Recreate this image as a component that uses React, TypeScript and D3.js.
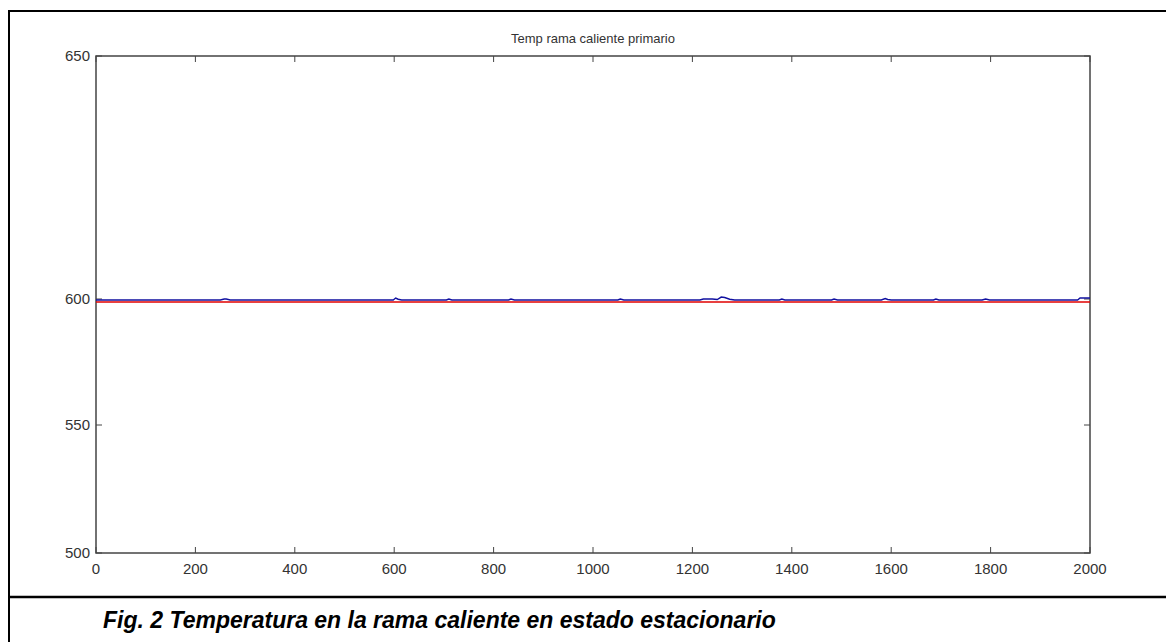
import React from 'react';
import * as d3 from 'd3';

// chart text
const chartTitle = 'Temp rama caliente primario';
const caption = 'Fig. 2 Temperatura en la rama caliente en estado estacionario';

// axis ticks
const xTicks = [0, 200, 400, 600, 800, 1000, 1200, 1400, 1600, 1800, 2000];
const yTicks = [500, 550, 600, 650];

// blue series (time, temperature)
const blueX = [0, 250, 258, 262, 270, 598, 603, 608, 615, 705, 710, 716, 830, 835, 842, 1050, 1055, 1062,
  1215, 1222, 1240, 1250, 1258, 1265, 1275, 1285, 1375, 1380, 1386, 1480, 1485, 1492, 1580, 1588, 1593, 1600,
  1685, 1690, 1696, 1783, 1790, 1798, 1975, 1980, 2000];
const blueY = [599.6, 599.6, 600.0, 600.0, 599.6, 599.6, 600.2, 599.9, 599.6, 599.6, 600.0, 599.6, 599.6, 600.0, 599.6,
  599.6, 600.0, 599.6, 599.6, 600.0, 600.0, 599.8, 600.4, 600.3, 599.9, 599.6, 599.6, 600.0, 599.6, 599.6, 600.0,
  599.6, 599.6, 600.1, 599.8, 599.6, 599.6, 600.0, 599.6, 599.6, 600.0, 599.6, 599.6, 600.2, 600.2];

// red series (reference value)
const redX = [0, 2000];
const redY = [598.8, 598.8];

export default function App() {
  const W = 1166;
  const H = 642;
  const left = 96, right = 1090, top = 56, bottom = 553;

  const x = d3.scaleLinear().domain([0, 2000]).range([left, right]);
  // the source figure is stretched above 600, so the y scale is piecewise
  const y = d3.scaleLinear().domain([500, 550, 600, 650]).range([bottom, 425, 299, top]);

  const line = d3.line<[number, number]>().x(d => x(d[0])).y(d => y(d[1]));
  const blue = blueX.map((v, i) => [v, blueY[i]] as [number, number]);
  const red = redX.map((v, i) => [v, redY[i]] as [number, number]);

  const axisColor = '#444';
  const tickLen = 6;

  return (
    <svg width={W} height={H} style={{ position: 'absolute', left: 0, top: 0, background: '#fff' }}
      fontFamily="'Liberation Sans', Arial, sans-serif">
      {/* outer figure frame */}
      <rect x={9} y={11} width={W + 10} height={H + 10} fill="none" stroke="#000" strokeWidth={2} />
      <line x1={9} x2={W} y1={597} y2={597} stroke="#000" strokeWidth={2.5} />

      {/* plot box */}
      <rect x={left} y={top} width={right - left} height={bottom - top} fill="#fff" stroke={axisColor} strokeWidth={1.5} />

      {xTicks.map(t => (
        <g key={'x' + t}>
          <line x1={x(t)} x2={x(t)} y1={bottom} y2={bottom - tickLen} stroke={axisColor} />
          <line x1={x(t)} x2={x(t)} y1={top} y2={top + tickLen} stroke={axisColor} />
          <text x={x(t)} y={bottom + 21} textAnchor="middle" fontSize={15} fill="#333">{t}</text>
        </g>
      ))}
      {yTicks.map(t => (
        <g key={'y' + t}>
          <line x1={left} x2={left + tickLen} y1={y(t)} y2={y(t)} stroke={axisColor} />
          <line x1={right} x2={right - tickLen} y1={y(t)} y2={y(t)} stroke={axisColor} />
          <text x={left - 6} y={y(t) + 5} textAnchor="end" fontSize={15} fill="#333">{t}</text>
        </g>
      ))}

      <path d={line(red) || ''} fill="none" stroke="#e00000" strokeWidth={1.4} />
      <path d={line(blue) || ''} fill="none" stroke="#1010a0" strokeWidth={1.4} />

      <text x={(left + right) / 2} y={43} textAnchor="middle" fontSize={13} fill="#333">{chartTitle}</text>

      <text x={103} y={628} fontSize={23} fontWeight="bold" fontStyle="italic" fill="#000">{caption}</text>
    </svg>
  );
}
